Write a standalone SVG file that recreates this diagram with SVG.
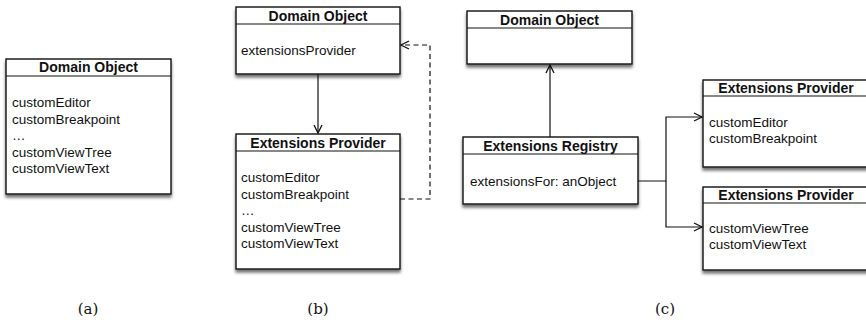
<svg xmlns="http://www.w3.org/2000/svg" width="866" height="329" viewBox="0 0 866 329">
<style>
.box{fill:#fff;stroke:#111;stroke-width:1.4}
.hl{stroke:#111;stroke-width:1.2}
.hd{font-family:"Liberation Sans",Arial,sans-serif;font-weight:bold;font-size:14px;fill:#111;text-anchor:middle}
.it{font-family:"Liberation Sans",Arial,sans-serif;font-size:13.5px;fill:#111}
.cap{font-family:"DejaVu Serif","Liberation Serif",serif;font-size:15px;fill:#111;text-anchor:middle}
.con{fill:none;stroke:#111;stroke-width:1.2}
.dash{stroke-dasharray:5,3.5}
</style>
<defs>
<filter id="sh" x="-10%" y="-10%" width="120%" height="130%">
<feDropShadow dx="0" dy="3" stdDeviation="1.6" flood-color="#444" flood-opacity="0.75"/>
</filter>
<marker id="ah" markerUnits="userSpaceOnUse" markerWidth="12" markerHeight="12" viewBox="0 0 12 12" refX="10" refY="6" orient="auto">
<path d="M2,2 L10,6 L2,10" fill="none" stroke="#111" stroke-width="1.3"/>
</marker>
</defs>

<g id="a-domain-object">
<rect class="box" x="6" y="59" width="165" height="135" filter="url(#sh)"/>
<line class="hl" x1="6" y1="76" x2="171" y2="76"/>
<text class="hd" x="88.5" y="72">Domain Object</text>
<text class="it" x="12" y="107">customEditor</text>
<text class="it" x="12" y="123.5">customBreakpoint</text>
<text class="it" x="12" y="140">…</text>
<text class="it" x="12" y="156.5">customViewTree</text>
<text class="it" x="12" y="173">customViewText</text>
</g>

<g id="b-domain-object">
<rect class="box" x="236" y="7" width="164" height="67" filter="url(#sh)"/>
<line class="hl" x1="236" y1="24" x2="400" y2="24"/>
<text class="hd" x="318" y="20.5">Domain Object</text>
<text class="it" x="241" y="55">extensionsProvider</text>
</g>

<g id="b-extensions-provider">
<rect class="box" x="236" y="134" width="164" height="135" filter="url(#sh)"/>
<line class="hl" x1="236" y1="151" x2="400" y2="151"/>
<text class="hd" x="318" y="147.5">Extensions Provider</text>
<text class="it" x="241" y="182">customEditor</text>
<text class="it" x="241" y="198.5">customBreakpoint</text>
<text class="it" x="241" y="215">…</text>
<text class="it" x="241" y="231.5">customViewTree</text>
<text class="it" x="241" y="248">customViewText</text>
</g>

<g id="c-domain-object">
<rect class="box" x="467" y="11" width="165" height="53" filter="url(#sh)"/>
<line class="hl" x1="467" y1="28" x2="632" y2="28"/>
<text class="hd" x="549.5" y="24.5">Domain Object</text>
</g>

<g id="c-extensions-registry">
<rect class="box" x="463" y="137" width="175" height="67" filter="url(#sh)"/>
<line class="hl" x1="463" y1="154" x2="638" y2="154"/>
<text class="hd" x="550.5" y="150.5">Extensions Registry</text>
<text class="it" x="470" y="186">extensionsFor: anObject</text>
</g>

<g id="c-extensions-provider-1">
<rect class="box" x="703" y="80" width="166" height="87" filter="url(#sh)"/>
<line class="hl" x1="703" y1="96" x2="869" y2="96"/>
<text class="hd" x="786" y="92.5">Extensions Provider</text>
<text class="it" x="709" y="127">customEditor</text>
<text class="it" x="709" y="143">customBreakpoint</text>
</g>

<g id="c-extensions-provider-2">
<rect class="box" x="703" y="187" width="166" height="83" filter="url(#sh)"/>
<line class="hl" x1="703" y1="203" x2="869" y2="203"/>
<text class="hd" x="786" y="199.5">Extensions Provider</text>
<text class="it" x="709" y="233">customViewTree</text>
<text class="it" x="709" y="249">customViewText</text>
</g>

<g id="connectors">
<path class="con" d="M318,74 V133" marker-end="url(#ah)"/>
<path class="con dash" d="M400,199 H430 V45 H401" marker-end="url(#ah)"/>
<path class="con" d="M550,137 V65" marker-end="url(#ah)"/>
<path class="con" d="M638,181 H666 V117 H702" marker-end="url(#ah)"/>
<path class="con" d="M666,181 V227 H702" marker-end="url(#ah)"/>
</g>

<g id="captions">
<text class="cap" x="88" y="314">(a)</text>
<text class="cap" x="318" y="314">(b)</text>
<text class="cap" x="665" y="314">(c)</text>
</g>
</svg>
